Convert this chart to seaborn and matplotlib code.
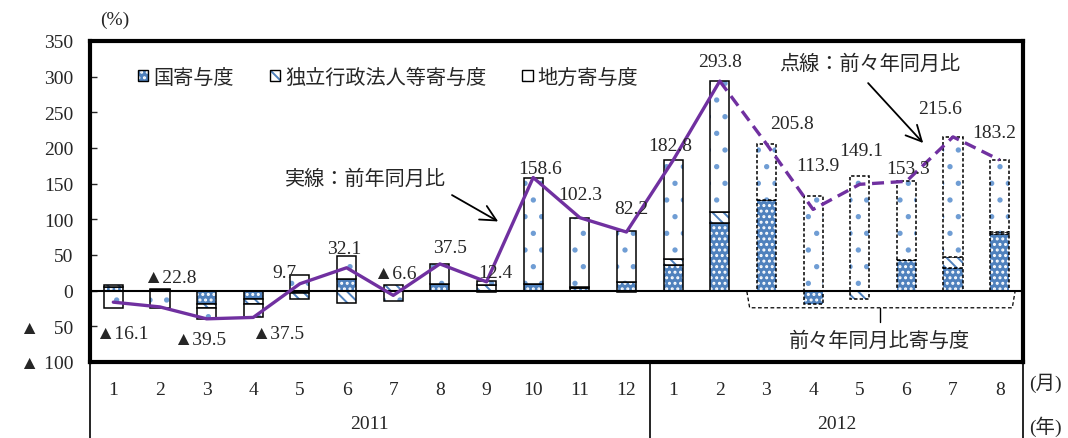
import numpy as np
import pandas as pd
import matplotlib
matplotlib.use("Agg")
import matplotlib.pyplot as plt
from matplotlib.patches import Patch
from matplotlib.transforms import blended_transform_factory
import seaborn as sns

# ---- data -------------------------------------------------------------
years = ["2011"] * 12 + ["2012"] * 8
months = [str(m) for m in range(1, 13)] + [str(m) for m in range(1, 9)]
periods = [f"{y}-{m}" for y, m in zip(years, months)]

# year-on-year change (%) ; from 2012-3 on: change vs. two years earlier
total = [-16.1, -22.8, -39.5, -37.5, 9.7, 32.1, -6.6, 37.5, 12.4, 158.6,
         102.3, 82.2, 182.8, 293.8, 205.8, 113.9, 149.1, 153.3, 215.6, 183.2]

# contributions (percentage points)
national = [5, 1, -19, -12, -3, 17, 0, 10, -1.6, 10,
            4, 12, 35.5, 95, 127, -19, 0, 42.5, 32, 80]
agency = [3, 1, -5, -6, -9.3, -16.9, 8, 0, 8.5, 0,
          1.5, -1.8, 9, 15, 0, 0, -11, 0, 15, 2.5]
local = [-24.1, -24.8, -15.5, -19.5, 22, 32, -14.6, 27.5, 5.5, 148.6,
         96.8, 72, 138.3, 183.8, 78.8, 132.9, 160.1, 110.8, 168.6, 100.7]

series_names = ["国寄与度", "独立行政法人等寄与度", "地方寄与度"]
year_labels = ["2011", "2012"]

# ---- style --------------------------------------------------------------
sns.set_style("white")
plt.rcParams["font.family"] = ["Liberation Serif", "Noto Sans CJK JP"]
plt.rcParams["hatch.linewidth"] = 1.4
plt.rcParams["axes.unicode_minus"] = False

FS = 14
BLUE = "#4F81BD"
DOT = "#6F9DD4"
PURPLE = "#7030A0"

fig = plt.figure(figsize=(10.68, 4.39), dpi=100)
W, H = 1068, 439
ax = fig.add_axes([90 / W, 1 - 363 / H, 933 / W, 321 / H])

n = len(periods)
idx = np.arange(n)
two_year_start = 14          # first bar compared with two years earlier
bar_w = 0.41

fills = [
    dict(color=BLUE, hatch="...", hcolor="white"),
    dict(color="white", hatch="\\\\\\", hcolor=BLUE),
    dict(color="white", hatch=".", hcolor=DOT),
]

pos = np.zeros(n)
neg = np.zeros(n)
for name, vals, st in zip(series_names, [national, agency, local], fills):
    vals = np.asarray(vals, dtype=float)
    bottom = np.where(vals >= 0, pos, neg)
    df = pd.DataFrame({"period": periods, "value": vals})
    # patterned fill
    sns.barplot(data=df, x="period", y="value", order=periods, width=bar_w,
                color=st["color"], saturation=1, errorbar=None,
                bottom=bottom, edgecolor=st["hcolor"], hatch=st["hatch"],
                linewidth=0, ax=ax)
    # black outline (dashed for the two-year comparison)
    before = len(ax.patches)
    sns.barplot(data=df, x="period", y="value", order=periods, width=bar_w,
                color="black", saturation=1, errorbar=None,
                bottom=bottom, facecolor="none", edgecolor="black",
                linewidth=1.1, ax=ax)
    for i, p in enumerate(ax.patches[before:]):
        if i >= two_year_start:
            p.set_linestyle((0, (2.2, 1.4)))
    pos = pos + np.where(vals >= 0, vals, 0)
    neg = neg + np.where(vals < 0, vals, 0)

ax.axhline(0, color="black", lw=1.5, zorder=3)

# ---- change lines -----------------------------------------------------
line_df = pd.DataFrame({"pos": idx, "total": total})
sns.lineplot(data=line_df.iloc[:two_year_start], x="pos", y="total",
             color=PURPLE, lw=2.4, ax=ax, zorder=4)
sns.lineplot(data=line_df.iloc[two_year_start - 1:], x="pos", y="total",
             color=PURPLE, lw=2.4, linestyle=(0, (3.6, 2.0)), ax=ax, zorder=4)

# ---- value labels -----------------------------------------------------
label_dx = [0.19, 0.21, -0.14, 0.53, -0.32, -0.06, 0.04, 0.22, 0.18, 0.15,
            0.0, 0.1, -0.07, 0.0, 0.55, 0.1, 0.03, 0.03, -0.28, -0.12]
label_dy = [-44, 41.5, -29, -22.5, 16, 27, 31, 23, 13, 13,
            33, 33, 21, 28, 28, 61, 48, 18.5, 40, 38]


def fmt(v):
    return f"▲{abs(v):.1f}" if v < 0 else f"{v:.1f}"


for i, v in enumerate(total):
    ax.text(i + label_dx[i], v + label_dy[i], fmt(v), ha="center",
            va="center", fontsize=FS, zorder=5)

# ---- axes --------------------------------------------------------------
ax.set_xlim(-0.5, n - 0.5)
ax.set_ylim(-100, 350)
yt = np.arange(-100, 351, 50)
ax.set_yticks(yt)
ylabels = []
for v in yt:
    if v == -50:
        ylabels.append("▲   50")
    elif v < 0:
        ylabels.append(f"▲ {abs(v)}")
    else:
        ylabels.append(str(v))
ax.set_yticklabels(ylabels, fontsize=FS)
ax.tick_params(axis="y", direction="in", length=5, width=1, pad=12,
               left=True)
ax.set_xticks(idx)
ax.set_xticklabels(months, fontsize=FS)
ax.tick_params(axis="x", length=0, pad=14)
ax.set_xlabel("")
ax.set_ylabel("")
for s in ax.spines.values():
    s.set_linewidth(3)
    s.set_color("black")
ax.grid(False)

# category table below the plot
trans = blended_transform_factory(ax.transData, ax.transAxes)
bottom_ax = -(H - 363) / 321
for xs in [-0.5, 11.5, n - 0.5]:
    ax.plot([xs, xs], [0, bottom_ax], color="black", lw=1.2,
            transform=trans, clip_on=False)
ax.text(5.5, -(425 - 363) / 321, year_labels[0], transform=trans,
        ha="center", va="center", fontsize=FS)
ax.text(15.5, -(425 - 363) / 321, year_labels[1], transform=trans,
        ha="center", va="center", fontsize=FS)
fig.text(1045 / W, 1 - 383 / H, "(月)", ha="center", va="center", fontsize=FS)
fig.text(1045 / W, 1 - 427 / H, "(年)", ha="center", va="center", fontsize=FS)
fig.text(115 / W, 1 - 20 / H, "(%)", ha="center", va="center", fontsize=FS)

# ---- legend -------------------------------------------------------------
handles = [Patch(facecolor=st["color"], edgecolor="black", hatch=st["hatch"],
                 linewidth=1.0) for st in fills]
for h, st in zip(handles, fills):
    h._hatch_color = matplotlib.colors.to_rgba(st["hcolor"])
leg = fig.legend(handles, series_names, loc="center left",
                 bbox_to_anchor=(138 / W, 1 - 79 / H), ncol=3, frameon=False,
                 fontsize=FS + 0.5, handlelength=0.5, handleheight=0.5,
                 handletextpad=0.25, columnspacing=1.8, borderpad=0,
                 borderaxespad=0)

# ---- annotations ------------------------------------------------------
ax.text(5.40, 156, "実線：前年同月比", ha="center", va="center", fontsize=FS + 0.5)
ax.annotate("", xy=(8.25, 97), xytext=(7.26, 134),
            arrowprops=dict(arrowstyle="->", lw=1.3, color="black",
                            mutation_scale=28, shrinkA=0, shrinkB=0))
ax.text(16.22, 318, "点線：前々年同月比", ha="center", va="center",
        fontsize=FS + 0.5)
ax.annotate("", xy=(17.36, 207), xytext=(16.18, 291),
            arrowprops=dict(arrowstyle="->", lw=1.3, color="black",
                            mutation_scale=28, shrinkA=0, shrinkB=0))

# bracket marking the two-year comparison bars
bx0, bx1, by0, by1 = 13.58, 19.33, -1, -24
ax.plot([bx0, bx0 + 0.06, bx1 - 0.06, bx1], [by0, by1, by1, by0],
        color="black", lw=0.9, ls=(0, (3, 2)), clip_on=False, zorder=3)
ax.plot([16.43, 16.43], [by1, -44], color="black", lw=1.0, clip_on=False)
ax.text(16.43, -71, "前々年同月比寄与度", ha="center", va="center",
        fontsize=FS + 0.5)

fig.savefig("out.png", dpi=100)
